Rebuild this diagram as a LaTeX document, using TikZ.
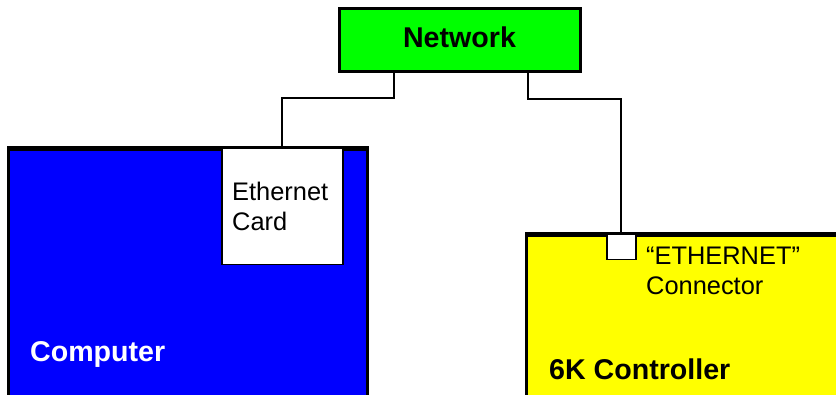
\documentclass[tikz,border=0pt]{standalone}
\usepackage{fontspec}
\setmainfont{Liberation Sans}
\definecolor{netgreen}{RGB}{0,255,0}
\definecolor{compblue}{RGB}{0,0,255}
\definecolor{ctrlyellow}{RGB}{255,255,0}
\begin{document}
\begin{tikzpicture}[x=1pt,y=-1pt,
  box/.style={draw=black,line width=3pt,rectangle,inner sep=0pt,anchor=north west},
  wire/.style={draw=black,line width=2pt},
  thinbox/.style={draw=black,line width=1.5pt,fill=white,rectangle,inner sep=0pt,anchor=north west},
  big/.style={font=\fontsize{28.6}{34}\selectfont\bfseries,inner sep=0pt,anchor=base west},
  small/.style={font=\fontsize{25.4}{30}\selectfont,inner sep=0pt,anchor=north west,align=left}]
\clip (0,0) rectangle (836,395);
\fill[white] (0,0) rectangle (836,395);
% Network
\node[box,fill=netgreen,minimum width=241pt,minimum height=63pt,anchor=center,
      font=\fontsize{28.6}{34}\selectfont\bfseries,text height=20.5pt,text depth=7pt]
  (net) at (459.5,40.5) {Network};
% Computer
\node[box,fill=compblue,minimum width=359pt,minimum height=300pt] (comp) at (7,148) {};
\node[thinbox,minimum width=121pt,minimum height=116pt] (card) at (221,148) {};
\draw[line width=3pt] (comp.north west) -- (comp.north east);
\node[small] (cardtxt) at (232,182) {Ethernet\\Card};
\node[big,text=white] (comptxt) at (30,362) {Computer};
% Controller
\node[box,fill=ctrlyellow,minimum width=400pt,minimum height=250pt] (ctrl) at (525,234) {};
\node[thinbox,minimum width=29pt,minimum height=25pt] (conn) at (606,234) {};
\draw[line width=3pt] (ctrl.north west) -- (ctrl.north east);
\node[small,font=\fontsize{25.4}{29.5}\selectfont] (conntxt) at (646,247) {“ETHERNET”\\Connector};
\node[big] (ctrltxt) at (549,380) {6K Controller};
% Wires
\draw[wire] (card.north) -- ++(0,-50) -| ([xshift=-65.5pt]net.south);
\draw[wire] ([xshift=68.5pt]net.south) -- ++(0,26) -| (conn.north);
\end{tikzpicture}
\end{document}
